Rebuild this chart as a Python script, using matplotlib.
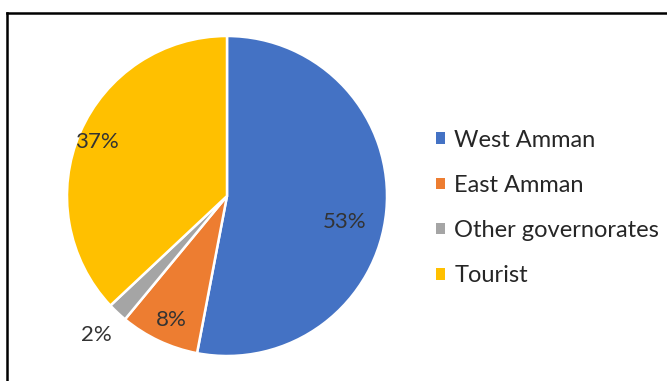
import numpy as np
import matplotlib.pyplot as plt
from matplotlib.patches import Patch

labels = ['West Amman', 'East Amman', 'Other governorates', 'Tourist']
shares = [53, 8, 2, 37]
colors = ['#4472C4', '#ED7D31', '#A5A5A5', '#FFC000']
label_r = [0.75, 0.85, 1.19, 0.88]     # where each % label sits (in radii)
label_shift = [-7, 1, 0, 1]            # small angle tweaks, degrees

plt.rcParams['font.family'] = ['Lato', 'DejaVu Sans']

fig = plt.figure(figsize=(6.67, 3.81), dpi=100)
ax = fig.add_axes([67 / 667, 25 / 381, 320 / 667, 320 / 381])

wedges, _ = ax.pie(shares, colors=colors, startangle=90, counterclock=False,
                   wedgeprops=dict(edgecolor='white', linewidth=1.8))
ax.set_xlim(-1, 1)
ax.set_ylim(-1, 1)
ax.set_aspect('equal')

for w, v, r, d in zip(wedges, shares, label_r, label_shift):
    ang = np.deg2rad((w.theta1 + w.theta2) / 2 + d)
    ax.text(r * np.cos(ang), r * np.sin(ang), f'{v}%', ha='center', va='center',
            fontsize=16, color='#333333', clip_on=False)

handles = [Patch(facecolor=c, edgecolor='none') for c in colors]
fig.legend(handles, labels, loc='center left', bbox_to_anchor=(436 / 667, 1 - 208 / 381),
           frameon=False, fontsize=17, handlelength=0.36, handleheight=0.36,
           handletextpad=0.42, labelspacing=1.03, borderpad=0, borderaxespad=0,
           labelcolor='#262626')

# frame lines around the picture (left and top)
fig.add_artist(plt.Line2D([7 / 667, 7 / 667], [0, 1 - 13 / 381], color='black', lw=1.8,
                          transform=fig.transFigure))
fig.add_artist(plt.Line2D([7 / 667, 1], [1 - 13 / 381, 1 - 13 / 381], color='black', lw=1.8,
                          transform=fig.transFigure))

plt.savefig('out.png', dpi=100)
